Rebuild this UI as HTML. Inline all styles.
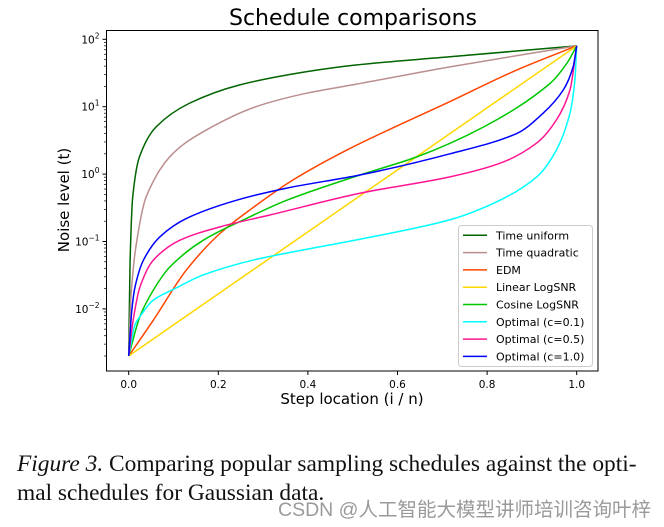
<!DOCTYPE html>
<html><head><meta charset="utf-8"><style>
body{margin:0;background:#fff;width:664px;height:527px;overflow:hidden;font-family:"DejaVu Sans","Liberation Sans",sans-serif}
svg{position:absolute;left:0;top:0}
.cap{position:absolute;left:17px;font-family:"Liberation Serif",serif;font-size:23.4px;color:#111;white-space:nowrap}
.wm{position:absolute;left:278px;top:493px;font-family:"Liberation Sans","Noto Sans CJK SC",sans-serif;font-size:19.5px;color:#9a9a9a;white-space:nowrap}
</style></head><body>
<svg id="chart" width="664" height="527"></svg>
<div class="cap" style="top:451px"><i>Figure 3.</i> Comparing popular sampling schedules against the opti-</div>
<div class="cap" style="top:480px">mal schedules for Gaussian data.</div>
<div class="wm">CSDN @人工智能大模型讲师培训咨询叶梓</div>
<script>
const seriesNames=["Time uniform","Time quadratic","EDM","Linear LogSNR","Cosine LogSNR","Optimal (c=0.1)","Optimal (c=0.5)","Optimal (c=1.0)"];
const seriesColors=["#006400","#bc8f8f","#ff4500","#ffd700","#00c800","#00ffff","#ff1493","#0000ff"];
const uniformX=[0,0.003,0.009,0.024,0.061,0.135,0.247,0.396,0.507,0.717,1];
const uniformY=[0.002,0.048,0.46,1.8,5.0,11.2,21,33,41.6,55,80];
const quadX=[0,0.005,0.016,0.039,0.098,0.173,0.284,0.396,0.507,0.717,1];
const quadY=[0.002,0.015,0.083,0.46,2.0,4.5,10,15.8,21.5,39,80];
const edmX=[0,0.055,0.129,0.204,0.278,0.367,0.494,0.717,0.866,1];
const edmY=[0.002,0.0068,0.038,0.132,0.32,0.82,2.4,11.9,35,80];
const linX=[0,0.25,0.5,0.75,1];
const linY=[0.002,0.0284,0.4,5.66,80];
const cosX=[0,0.025,0.055,0.092,0.167,0.263,0.353,0.516,0.643,0.792,0.94,0.978,1];
const cosY=[0.002,0.0077,0.019,0.042,0.105,0.22,0.41,0.97,1.8,5.0,22,44,80];
const c01X=[0,0.014,0.025,0.055,0.1,0.167,0.278,0.39,0.516,0.717,0.829,0.911,0.955,0.985,0.996,1];
const c01Y=[0.002,0.0058,0.0077,0.0135,0.0195,0.032,0.053,0.075,0.108,0.21,0.41,0.91,2.3,8.0,25,80];
const c05X=[0,0.01,0.025,0.055,0.115,0.204,0.315,0.516,0.717,0.829,0.911,0.955,0.985,1];
const c05Y=[0.002,0.0068,0.021,0.053,0.105,0.165,0.247,0.52,0.91,1.45,2.9,6.4,17.7,80];
const c10X=[0,0.007,0.014,0.033,0.07,0.129,0.241,0.353,0.516,0.717,0.866,0.925,0.97,0.992,1];
const c10Y=[0.002,0.0096,0.021,0.053,0.118,0.22,0.41,0.62,0.97,2.0,4.0,8.0,17.7,39,80];
const xTicks=[0,0.2,0.4,0.6,0.8,1.0];
const xTickLabels=["0.0","0.2","0.4","0.6","0.8","1.0"];
const yTickExps=[-2,-1,0,1,2];

const allX=[uniformX,quadX,edmX,linX,cosX,c01X,c05X,c10X];
const allY=[uniformY,quadY,edmY,linY,cosY,c01Y,c05Y,c10Y];
const NS="http://www.w3.org/2000/svg";
const svg=document.getElementById('chart');
const L=106.5,T=30.5,R=598,B=371;
function sx(v){return 128.7+v*448;}
function sy(v){return 39.3-67.4*(Math.log10(v)-2);}
function mk(tag,attrs,parent){const e=document.createElementNS(NS,tag);for(const k in attrs)e.setAttribute(k,attrs[k]);(parent||svg).appendChild(e);return e;}
function smoothPath(px,py){
  const n=px.length;const d=[],m=new Array(n);
  for(let i=0;i<n-1;i++)d.push((py[i+1]-py[i])/(px[i+1]-px[i]));
  m[0]=d[0];m[n-1]=d[n-2];
  for(let i=1;i<n-1;i++){m[i]=(d[i-1]*d[i]<=0)?0:2/(1/d[i-1]+1/d[i]);}
  let s='M'+px[0].toFixed(2)+' '+py[0].toFixed(2);
  for(let i=0;i<n-1;i++){const h=px[i+1]-px[i];
    s+=' C'+(px[i]+h/3).toFixed(2)+' '+(py[i]+m[i]*h/3).toFixed(2)+' '+(px[i+1]-h/3).toFixed(2)+' '+(py[i+1]-m[i+1]*h/3).toFixed(2)+' '+px[i+1].toFixed(2)+' '+py[i+1].toFixed(2);}
  return s;
}

const title=mk('text',{x:353,y:25,'text-anchor':'middle','font-size':'22','fill':'#000'});
title.textContent='Schedule comparisons';



const ylab=mk('text',{x:0,y:0,'text-anchor':'middle','font-size':'15',transform:'translate(69,200) rotate(-90)'});
ylab.textContent='Noise level (t)';


const xlab=mk('text',{x:352,y:404,'text-anchor':'middle','font-size':'15'});
xlab.textContent='Step location (i / n)';



xTicks.forEach((v,i)=>{
  const t=mk('line',{x1:sx(v),x2:sx(v),y1:B,y2:B+4,stroke:'#000','stroke-width':1});
  
  
  const lb=mk('text',{x:sx(v),y:B+17,'text-anchor':'middle','font-size':'10.5'});
  lb.textContent=xTickLabels[i];
  
  
});
for(let e=-3;e<=2;e++){
  for(let m=1;m<10;m++){
    const v=m*Math.pow(10,e);
    const y=sy(v);
    if(y<T||y>B)continue;
    const major=(m===1);
    const t=mk('line',{x1:L-(major?4:2.5),x2:L,y1:y,y2:y,stroke:'#000','stroke-width':major?1:0.7});
    
    
  }
}
yTickExps.forEach(e=>{
  const y=sy(Math.pow(10,e));
  const g=mk('text',{x:L-7,y:y+4,'text-anchor':'end','font-size':'10.5'});
  
  
  const a=mk('tspan',{},g);a.textContent='10';
  const b=mk('tspan',{dy:-5,'font-size':'7.5'},g);b.textContent=e<0?'\u2212'+(-e):String(e);
});

const clip=mk('clipPath',{id:'clp'});mk('rect',{x:L,y:T,width:R-L,height:B-T},clip);
allX.forEach((xs,i)=>{
  const d=smoothPath(xs.map(sx),allY[i].map(sy));
  const p=mk('path',{d:d,fill:'none',stroke:seriesColors[i],'stroke-width':1.5,'stroke-linejoin':'round','clip-path':'url(#clp)'});
  
  
});

const frame=mk('rect',{x:L,y:T,width:R-L,height:B-T,fill:'none',stroke:'#000','stroke-width':1});



const lg=mk('g',{});


mk('rect',{x:458.5,y:225.5,width:134,height:141,rx:3,fill:'#fff','fill-opacity':0.85,stroke:'#ccc','stroke-width':1},lg);
seriesNames.forEach((n,i)=>{
  const y=235.3+i*17.3;
  const ge=mk('g',{},lg);
  
  
  mk('line',{x1:463,x2:487,y1:y,y2:y,stroke:seriesColors[i],'stroke-width':1.5},ge);
  const t=mk('text',{x:496,y:y+4,'font-size':'11'},ge);t.textContent=n;
});
</script>
</body></html>
